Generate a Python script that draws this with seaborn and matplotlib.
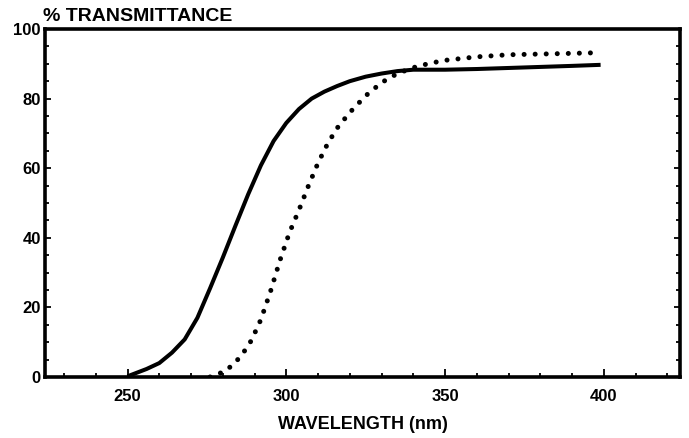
import matplotlib
matplotlib.use("Agg")
import matplotlib.pyplot as plt
from matplotlib.ticker import MultipleLocator
import seaborn as sns
import pandas as pd

# solid curve
wl_solid = [250, 252, 256, 260, 264, 268, 272, 276, 280, 284, 288, 292, 296,
            300, 304, 308, 312, 316, 320, 325, 330, 335, 340, 350, 360, 370,
            380, 390, 399]
t_solid = [0.2, 0.9, 2.3, 4.0, 7.0, 10.8, 17.0, 25.5, 34.3, 43.5, 52.5, 60.8,
           67.8, 73.0, 77.0, 80.0, 82.0, 83.6, 85.0, 86.3, 87.2, 87.9, 88.3,
           88.3, 88.5, 88.8, 89.1, 89.4, 89.7]

# dotted curve
wl_dot = [276, 280, 283, 286, 289, 292, 295, 298, 301, 304, 307, 310, 313,
          316, 320, 325, 330, 335, 340, 345, 350, 360, 370, 380, 390, 399]
t_dot = [0, 1.4, 3.3, 6.3, 10.5, 16.5, 24.5, 33.5, 41.5, 48.0, 55.0, 61.5,
         67.0, 71.5, 76.0, 80.8, 84.6, 87.2, 88.9, 90.1, 91.0, 92.0, 92.6,
         92.8, 93.0, 93.2]

x_ticks = [250, 300, 350, 400]
y_ticks = [0, 20, 40, 60, 80, 100]

sns.set_style("ticks")
plt.rcParams['font.family'] = ['Liberation Sans', 'DejaVu Sans']
plt.rcParams['font.weight'] = 'bold'
plt.rcParams['text.color'] = 'black'
plt.rcParams['axes.labelcolor'] = 'black'
plt.rcParams['xtick.color'] = 'black'
plt.rcParams['ytick.color'] = 'black'

fig = plt.figure(figsize=(6.89, 4.38), dpi=100)
ax = fig.add_axes([0.0653, 0.1393, 0.9216, 0.7945])

df_solid = pd.DataFrame({"wavelength": wl_solid, "transmittance": t_solid})
df_dot = pd.DataFrame({"wavelength": wl_dot, "transmittance": t_dot})

sns.lineplot(data=df_solid, x="wavelength", y="transmittance", ax=ax,
             color="black", linewidth=2.9, solid_capstyle="butt")
sns.lineplot(data=df_dot, x="wavelength", y="transmittance", ax=ax,
             color="black", linewidth=3.6, linestyle=(0, (0.01, 2.2)),
             dash_capstyle="round")

ax.set_xlim(224, 424)
ax.set_ylim(0, 100)
ax.set_xticks(x_ticks)
ax.set_yticks(y_ticks)
ax.xaxis.set_minor_locator(MultipleLocator(10))
ax.yaxis.set_minor_locator(MultipleLocator(5))
ax.tick_params(which="both", direction="in", right=True, width=1.3,
               labelsize=12)
ax.tick_params(axis="x", which="major", length=6, pad=9)
ax.tick_params(axis="x", which="minor", length=3)
ax.tick_params(axis="y", which="major", length=4, pad=3)
ax.tick_params(axis="y", which="minor", length=3)

for s in ax.spines.values():
    s.set_linewidth(2.6)
    s.set_color("black")

ax.set_xlabel("WAVELENGTH (nm)", fontsize=13, fontweight="bold", labelpad=8)
ax.set_ylabel("")
fig.text(0.063, 1 - 21 / 438, "% TRANSMITTANCE", fontsize=14,
         fontweight="bold", va="baseline", ha="left")

fig.savefig("out.png", dpi=100)
